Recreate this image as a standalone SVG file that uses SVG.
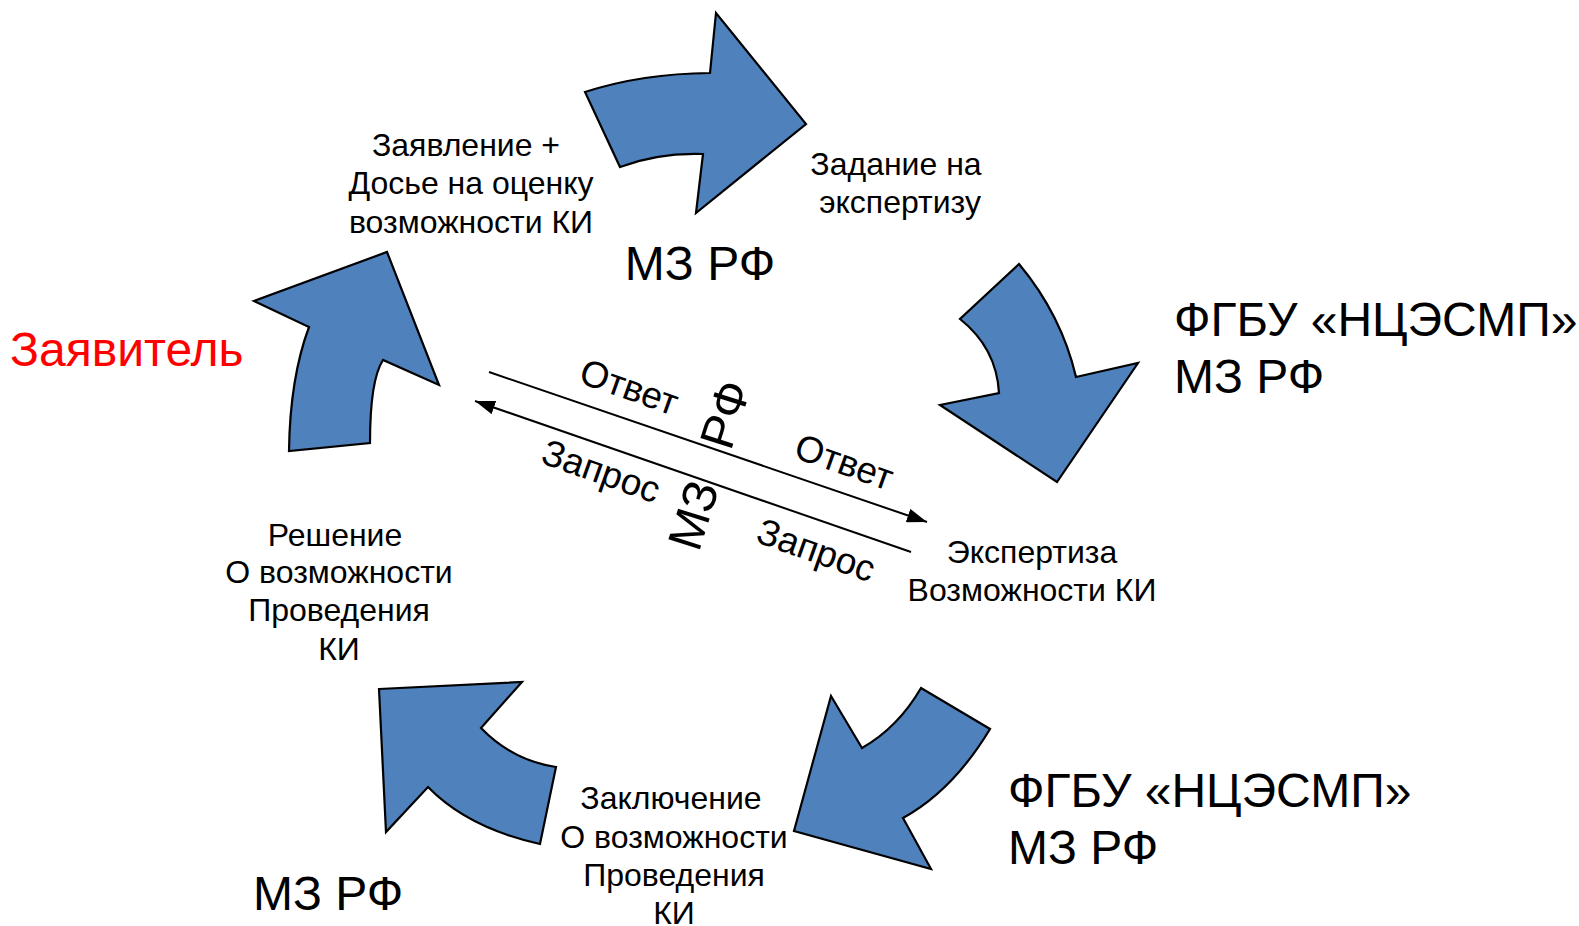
<svg xmlns="http://www.w3.org/2000/svg" width="1579" height="926" viewBox="0 0 1579 926">
<defs>
<marker id="ah" viewBox="0 0 20 14" refX="20" refY="7" markerWidth="20" markerHeight="14" markerUnits="userSpaceOnUse" orient="auto">
<path d="M0,0 L20,7 L0,14 Z" fill="#000"/>
</marker>
<style>
.arr{fill:#4F81BD;stroke:#000;stroke-width:2.2;stroke-linejoin:miter}
.t{font-family:"Liberation Sans",Arial,sans-serif;fill:#000}
.s{font-size:32px;text-anchor:middle}
.b{font-size:48px}
.c{font-size:37px;text-anchor:middle}
.conn{stroke:#000;stroke-width:2;fill:none}
</style>
</defs>
<rect width="1579" height="926" fill="#fff"/>

<g id="arrow-top">
<path class="arr" d="M585,92 Q642.5,73.5 710,73 L716,13 L806,124 L696,213 L703,154 Q658.5,152.5 620,167 Z"/>
</g>
<g id="arrow-right">
<path class="arr" d="M1019,264 L960,319 Q996.5,348 999,393 L940,405 L1057,482 L1138,363 L1076,377 Q1061.5,315 1019,264 Z"/>
</g>
<g id="arrow-bottom-right">
<path class="arr" d="M921,688 L990,729 Q953,790.5 903,818 L931,869 L794,831 L831,696 L862,748 Q898,727.5 921,688 Z"/>
</g>
<g id="arrow-bottom-left">
<path class="arr" d="M379,689 L522,682 L481,728 Q512.5,760.5 556,767 L540,844 Q468,828 428,787 L386,832 Z"/>
</g>
<g id="arrow-left">
<path class="arr" d="M254,301 L387,252 L439,385 L383,360 Q370,380 370,443 L289,451 Q290,378 309,327 Z"/>
</g>

<g id="connectors">
<line class="conn" x1="489" y1="372" x2="927" y2="522" marker-end="url(#ah)"/>
<line class="conn" x1="911" y1="552" x2="475" y2="401" marker-end="url(#ah)"/>
</g>

<g id="center-labels">
<text class="t c" transform="translate(625,399) rotate(19.5)">Ответ</text>
<text class="t c" transform="translate(840,474) rotate(19.5)">Ответ</text>
<text class="t c" transform="translate(597,483) rotate(19.5)">Запрос</text>
<text class="t c" transform="translate(812,562) rotate(19.5)">Запрос</text>
<text class="t" font-size="48" text-anchor="middle" transform="translate(725,470) rotate(-72.5)">МЗ<tspan dx="24"> РФ</tspan></text>
</g>

<g id="node-zayavitel">
<text class="t b" x="10" y="366" style="fill:#FF0000">Заявитель</text>
</g>
<g id="node-dossier">
<text class="t s" x="466" y="156">Заявление +</text>
<text class="t s" x="471" y="194">Досье на оценку</text>
<text class="t s" x="471" y="233">возможности КИ</text>
</g>
<g id="node-mz-top">
<text class="t b" x="700" y="280" text-anchor="middle">МЗ РФ</text>
</g>
<g id="node-zadanie">
<text class="t s" x="896" y="175">Задание на</text>
<text class="t s" x="900" y="213">экспертизу</text>
</g>
<g id="node-fgbu-top">
<text class="t b" x="1174" y="336">ФГБУ «НЦЭСМП»</text>
<text class="t b" x="1174" y="393">МЗ РФ</text>
</g>
<g id="node-expertiza">
<text class="t s" x="1032" y="563">Экспертиза</text>
<text class="t s" x="1032" y="601">Возможности КИ</text>
</g>
<g id="node-fgbu-bottom">
<text class="t b" x="1008" y="807">ФГБУ «НЦЭСМП»</text>
<text class="t b" x="1008" y="864">МЗ РФ</text>
</g>
<g id="node-zaklyuchenie">
<text class="t s" x="671" y="809">Заключение</text>
<text class="t s" x="674" y="848">О возможности</text>
<text class="t s" x="674" y="886">Проведения</text>
<text class="t s" x="674" y="924">КИ</text>
</g>
<g id="node-mz-bottom">
<text class="t b" x="253" y="910">МЗ РФ</text>
</g>
<g id="node-reshenie">
<text class="t s" x="335" y="546">Решение</text>
<text class="t s" x="339" y="583">О возможности</text>
<text class="t s" x="339" y="621">Проведения</text>
<text class="t s" x="339" y="660">КИ</text>
</g>
</svg>
